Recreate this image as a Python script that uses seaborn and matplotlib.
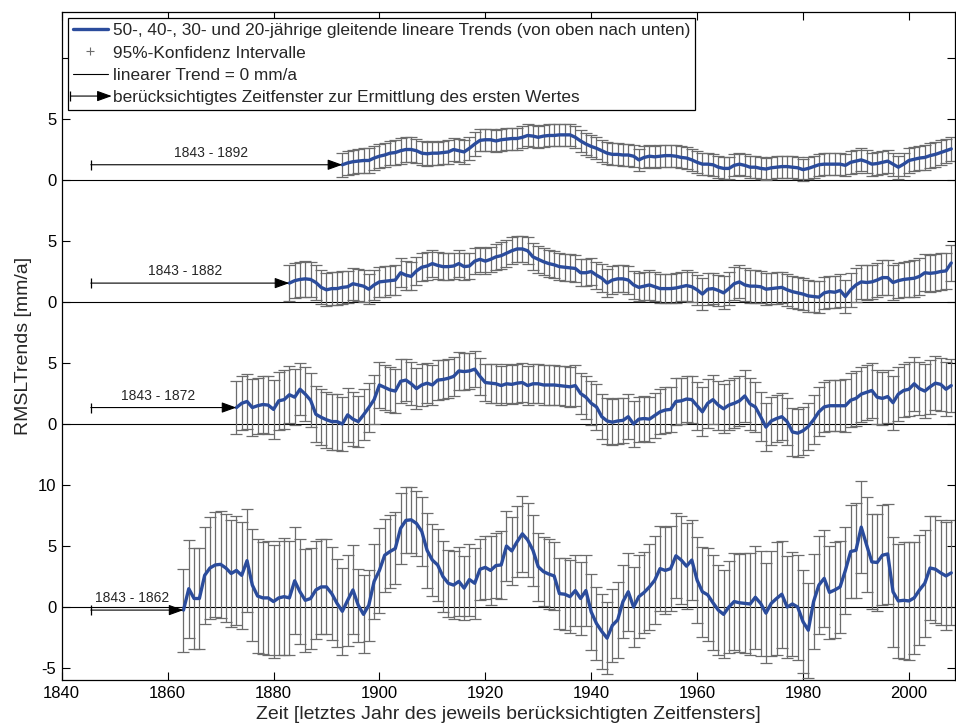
import numpy as np
import pandas as pd
import matplotlib
matplotlib.use("Agg")
import matplotlib.pyplot as plt
import seaborn as sns
from matplotlib.lines import Line2D
from matplotlib.legend_handler import HandlerBase
from matplotlib.patches import FancyArrowPatch

sns.set_style("ticks")
plt.rcParams["font.family"] = ["Liberation Sans", "DejaVu Sans"]

# ---------------- data ----------------
start_years = [1893, 1883, 1873, 1863]          # first plotted value (50, 40, 30, 20 yr)
window_labels = ["1843 - 1892", "1843 - 1882", "1843 - 1872", "1843 - 1862"]

trend_50 = [1.25, 1.4, 1.5, 1.55, 1.6, 1.6, 1.8, 1.95, 2.05, 2.2,
            2.25, 2.4, 2.5, 2.5, 2.4, 2.2, 2.15, 2.2, 2.2, 2.25,
            2.3, 2.5, 2.4, 2.3, 2.6, 2.95, 3.25, 3.3, 3.3, 3.2,
            3.3, 3.35, 3.4, 3.4, 3.5, 3.65, 3.6, 3.5, 3.6, 3.65,
            3.65, 3.7, 3.7, 3.7, 3.5, 3.2, 2.95, 2.75, 2.6, 2.4,
            2.2, 2.1, 2.1, 2.05, 2.05, 1.95, 1.65, 1.85, 1.95, 1.9,
            1.95, 2.0, 2.0, 1.95, 1.85, 1.8, 1.65, 1.45, 1.3, 1.3,
            1.25, 1.05, 0.95, 0.95, 1.2, 1.3, 1.2, 1.05, 1.05, 0.95,
            0.9, 1.0, 1.05, 1.1, 1.1, 1.05, 1.0, 0.85, 0.95, 1.1,
            1.25, 1.3, 1.3, 1.3, 1.3, 1.2, 1.45, 1.55, 1.65, 1.5,
            1.3, 1.35, 1.45, 1.55, 1.3, 1.05, 1.3, 1.6, 1.7, 1.8,
            1.85, 2.0, 2.1, 2.25, 2.4, 2.55]
ci_50 = [1.0, 1.0, 1.0, 1.0, 1.0, 1.0, 1.0, 1.0, 1.0, 1.0,
         1.05, 1.05, 1.05, 1.0, 1.0, 1.0, 1.0, 1.0, 0.95, 0.95,
         0.95, 0.95, 0.95, 0.95, 0.95, 0.95, 0.9, 0.9, 0.9, 0.9,
         0.9, 0.9, 0.9, 0.9, 0.9, 0.9, 0.9, 0.9, 0.9, 0.9,
         0.9, 0.9, 0.9, 0.9, 0.9, 0.9, 0.9, 0.9, 0.9, 0.9,
         0.9, 0.9, 0.9, 0.9, 0.9, 0.9, 0.9, 0.9, 0.9, 0.9,
         0.9, 0.9, 0.9, 0.9, 0.9, 0.9, 0.9, 0.9, 0.9, 0.9,
         0.9, 0.9, 0.9, 0.9, 0.9, 0.9, 0.9, 0.9, 0.9, 0.9,
         0.9, 0.9, 0.9, 0.9, 0.9, 0.9, 0.9, 0.9, 0.9, 0.9,
         0.9, 0.9, 0.9, 0.9, 0.9, 0.9, 0.95, 0.95, 0.95, 0.95,
         0.95, 0.95, 0.95, 0.95, 0.95, 0.95, 0.95, 1.0, 1.0, 1.0,
         1.0, 1.0, 1.0, 1.0, 1.0, 1.0]

trend_40 = [1.55, 1.75, 1.85, 1.9, 1.85, 1.6, 1.2, 1.0, 1.1, 1.1,
            1.2, 1.25, 1.5, 1.4, 1.3, 1.05, 1.4, 1.65, 1.7, 1.75,
            1.8, 2.4, 2.2, 2.1, 2.55, 2.85, 2.95, 3.15, 3.0, 2.9,
            2.9, 2.95, 3.15, 2.9, 2.95, 3.35, 3.5, 3.35, 3.5, 3.7,
            3.8, 4.0, 4.2, 4.35, 4.35, 4.2, 3.7, 3.5, 3.3, 3.15,
            3.05, 2.9, 2.85, 2.8, 2.75, 2.4, 2.4, 2.5, 2.2, 1.95,
            1.55, 1.8, 1.9, 1.9, 1.8, 1.4, 1.2, 1.3, 1.4, 1.25,
            1.1, 1.1, 1.1, 1.15, 1.25, 1.35, 1.25, 1.0, 0.65, 1.05,
            1.1, 0.95, 0.75, 1.1, 1.5, 1.65, 1.4, 1.3, 1.3, 1.25,
            1.05, 1.1, 1.15, 1.2, 1.0, 0.85, 0.75, 0.65, 0.5, 0.45,
            0.4, 0.75, 0.85, 0.8, 0.95, 0.45, 1.0, 1.4, 1.65, 1.6,
            1.65, 1.8, 2.0, 2.0, 1.6, 1.75, 1.85, 1.9, 1.95, 2.1,
            2.4, 2.35, 2.4, 2.5, 2.55, 3.2]
ci_40 = [1.45, 1.45, 1.45, 1.45, 1.4, 1.4, 1.4, 1.35, 1.35, 1.35,
         1.35, 1.3, 1.3, 1.3, 1.3, 1.25, 1.25, 1.25, 1.25, 1.2,
         1.2, 1.2, 1.2, 1.15, 1.15, 1.15, 1.15, 1.1, 1.1, 1.1,
         1.1, 1.1, 1.1, 1.1, 1.05, 1.05, 1.05, 1.05, 1.05, 1.05,
         1.1, 1.1, 1.1, 1.1, 1.1, 1.1, 1.1, 1.1, 1.1, 1.1,
         1.1, 1.1, 1.1, 1.1, 1.1, 1.1, 1.1, 1.1, 1.1, 1.15,
         1.15, 1.15, 1.1, 1.1, 1.15, 1.15, 1.15, 1.15, 1.2, 1.2,
         1.2, 1.2, 1.2, 1.2, 1.2, 1.25, 1.25, 1.25, 1.3, 1.3,
         1.3, 1.3, 1.35, 1.35, 1.35, 1.35, 1.35, 1.35, 1.35, 1.3,
         1.3, 1.3, 1.3, 1.3, 1.3, 1.3, 1.3, 1.3, 1.3, 1.3,
         1.3, 1.3, 1.3, 1.3, 1.35, 1.35, 1.4, 1.4, 1.4, 1.4,
         1.4, 1.4, 1.45, 1.45, 1.45, 1.45, 1.45, 1.45, 1.5, 1.5,
         1.5, 1.5, 1.5, 1.5, 1.5, 1.5]

trend_30 = [1.35, 1.7, 1.85, 1.35, 1.5, 1.6, 1.55, 1.2, 1.9, 2.0,
            2.4, 2.2, 2.85, 2.45, 1.95, 0.8, 0.55, 0.35, 0.2, 0.2,
            0.0, 0.75, 0.4, 0.2, 0.75, 1.35, 2.0, 3.2, 3.0, 2.8,
            2.7, 3.5, 3.6, 3.3, 2.9, 3.2, 3.35, 3.2, 3.6, 3.65,
            3.75, 3.9, 4.35, 4.3, 4.35, 4.5, 3.9, 3.4, 3.35, 3.3,
            3.15, 3.3, 3.25, 3.35, 3.4, 3.15, 3.3, 3.3, 3.2, 3.2,
            3.2, 3.15, 3.1, 3.05, 3.15, 2.5, 2.2, 1.7, 1.4, 0.6,
            0.25, 0.15, 0.25, 0.3, 0.6, 0.0, 0.4, 0.45, 0.4, 0.7,
            1.0, 1.15, 1.2, 1.85, 1.9, 2.05, 2.0, 1.5, 1.0, 1.7,
            2.0, 1.55, 1.25, 1.55, 1.7, 1.9, 2.3, 1.65, 1.4, 0.6,
            -0.25, 0.25, 0.45, 0.6, 0.2, -0.65, -0.75, -0.55, -0.2, 0.35,
            1.0, 1.4, 1.5, 1.5, 1.5, 1.5, 1.95, 2.1, 2.45, 2.6,
            2.75, 2.2, 2.1, 2.25, 1.75, 2.45, 2.75, 2.85, 3.3, 2.9,
            2.7, 3.05, 3.35, 3.25, 2.85, 3.15]
ci_30 = [2.2, 2.2, 2.25, 2.3, 2.3, 2.3, 2.35, 2.4, 2.4, 2.4,
         2.35, 2.3, 2.15, 2.2, 2.2, 2.3, 2.3, 2.3, 2.3, 2.3,
         2.25, 2.2, 2.2, 2.1, 2.1, 2.0, 2.0, 1.9, 1.85, 1.85,
         1.8, 1.8, 1.75, 1.75, 1.7, 1.7, 1.65, 1.65, 1.65, 1.6,
         1.6, 1.6, 1.55, 1.55, 1.5, 1.5, 1.55, 1.55, 1.6, 1.6,
         1.6, 1.6, 1.6, 1.6, 1.6, 1.6, 1.6, 1.6, 1.6, 1.6,
         1.6, 1.6, 1.65, 1.65, 1.65, 1.7, 1.75, 1.8, 1.85, 1.85,
         1.85, 1.9, 1.9, 1.85, 1.85, 1.85, 1.85, 1.85, 1.85, 1.85,
         1.85, 1.85, 1.85, 1.9, 1.9, 1.9, 1.9, 1.95, 2.0, 2.0,
         2.0, 2.0, 2.0, 2.05, 2.05, 2.05, 2.1, 2.1, 2.05, 2.0,
         2.0, 2.0, 1.95, 1.95, 1.95, 1.95, 1.95, 1.95, 1.95, 2.0,
         2.0, 2.05, 2.1, 2.1, 2.1, 2.15, 2.2, 2.25, 2.25, 2.25,
         2.25, 2.2, 2.2, 2.2, 2.2, 2.2, 2.2, 2.2, 2.2, 2.2,
         2.2, 2.2, 2.2, 2.2, 2.2, 2.2]

trend_20 = [-0.25, 1.5, 0.7, 0.7, 2.6, 3.2, 3.45, 3.5, 3.2, 2.75,
            3.0, 2.6, 3.8, 1.8, 0.9, 0.75, 0.75, 0.45, 0.75, 0.85,
            0.75, 2.15, 1.25, 0.55, 0.7, 1.4, 1.65, 1.65, 1.1, 0.3,
            -0.35, 0.55, 1.4, 0.15, -0.6, 0.15, 2.1, 3.0, 4.25, 4.55,
            4.8, 6.45, 7.1, 7.15, 6.85, 6.2, 4.65, 3.85, 3.45, 2.5,
            1.95, 1.8, 2.1, 1.55, 2.25, 1.95, 3.1, 3.25, 3.0, 3.4,
            3.45, 5.0, 4.6, 5.35, 6.0, 5.5, 4.65, 3.3, 2.9, 2.7,
            2.55, 1.1, 1.05, 0.85, 1.35, 0.7, 1.35, -0.4, -1.35, -2.0,
            -2.55, -1.5, -1.05, 0.45, 1.25, 0.0, 0.85, 1.2, 1.65, 2.2,
            3.15, 3.0, 3.15, 4.2, 3.85, 3.35, 3.85, 2.2, 1.25, 1.0,
            0.35, -0.25, -0.6, 0.0, 0.45, 0.35, 0.3, 0.25, 0.8, 0.3,
            -0.5, 0.3, 0.7, 1.05, 0.0, 0.25, 0.0, -1.2, -1.9, 0.45,
            1.8, 2.35, 1.2, 1.4, 1.65, 3.0, 4.55, 4.65, 6.55, 5.1,
            3.7, 3.65, 4.25, 4.35, 1.25, 0.5, 0.55, 0.5, 0.75, 1.4,
            1.95, 3.2, 3.1, 2.8, 2.55, 2.8]
ci_20 = [3.4, 4.0, 4.1, 4.1, 4.0, 4.2, 4.3, 4.4, 4.4, 4.4,
         4.5, 4.4, 4.2, 4.6, 4.7, 4.6, 4.7, 4.6, 4.7, 4.8,
         4.7, 4.4, 4.3, 4.2, 4.1, 4.0, 3.9, 3.9, 3.8, 3.6,
         3.55, 3.75, 3.65, 3.0, 3.2, 2.9, 3.1, 3.5, 3.0, 3.0,
         2.95, 2.9, 2.7, 2.7, 2.7, 2.85, 3.05, 2.95, 2.95, 2.9,
         2.75, 2.8, 2.8, 2.65, 2.95, 2.9, 2.5, 2.6, 2.8, 2.7,
         2.8, 2.9, 2.8, 2.9, 3.1, 3.0, 2.9, 2.8, 2.8, 2.9,
         2.8, 2.9, 2.95, 3.0, 2.9, 3.0, 2.9, 3.1, 3.0, 3.1,
         2.95, 3.0, 3.1, 3.0, 3.2, 3.3, 3.4, 3.3, 3.5, 3.6,
         3.5, 3.6, 3.5, 3.5, 3.6, 3.5, 3.3, 3.5, 3.7, 3.8,
         3.9, 3.7, 3.6, 3.8, 4.0, 4.0, 4.1, 4.2, 4.2, 4.3,
         4.1, 4.3, 4.6, 4.4, 4.2, 4.3, 4.3, 4.2, 3.9, 3.9,
         4.0, 4.0, 3.8, 3.9, 3.8, 3.6, 3.8, 3.9, 3.8, 3.9,
         3.9, 4.0, 4.1, 4.1, 4.5, 4.7, 4.8, 4.8, 4.6, 4.5,
         4.4, 4.3, 4.4, 4.3, 4.4, 4.3]

x_ticks = [1840, 1860, 1880, 1900, 1920, 1940, 1960, 1980, 2000]
y_tick_labels = ["-5", "0", "5", "10", "0", "5", "0", "5", "0", "5", ""]

legend_labels = [
    "50-, 40-, 30- und 20-jährige gleitende lineare Trends (von oben nach unten)",
    "95%-Konfidenz Intervalle",
    "linearer Trend = 0 mm/a",
    "berücksichtigtes Zeitfenster zur Ermittlung des ersten Wertes",
]
x_label = "Zeit [letztes Jahr des jeweils berücksichtigten Zeitfensters]"
y_label = "RMSLTrends [mm/a]"

# ---------------- layout / style ----------------
offsets = [35, 25, 15, 0]
window_start = 1845.5
blue = "#2b4c9c"
grey = "#6c6c6c"

W, H = 956, 725
fig = plt.figure(figsize=(W / 100, H / 100), dpi=100)
ax = fig.add_axes([61.7 / W, 1 - 680 / H, (955.5 - 61.7) / W, 668 / H])

series = [(trend_50, ci_50), (trend_40, ci_40), (trend_30, ci_30), (trend_20, ci_20)]
arrowstyle = "-|>,head_length=0.75,head_width=0.27"
arrow_scale = 12

for (vals, ci), start, off, lab in zip(series, start_years, offsets, window_labels):
    years = np.arange(start, start + len(vals))
    y = np.asarray(vals) + off
    ax.axhline(off, color="k", lw=0.8, zorder=1)
    ax.errorbar(years, y, yerr=ci, fmt="none", ecolor=grey, elinewidth=0.9,
                capsize=4.5, capthick=0.9, zorder=2)
    df = pd.DataFrame({"Jahr": years, "Wert": y})
    sns.lineplot(data=df, x="Jahr", y="Wert", ax=ax, color=blue, lw=2.4,
                 zorder=3, legend=False)
    ax.annotate("", xy=(start, y[0]), xytext=(window_start, y[0]),
                arrowprops=dict(arrowstyle=arrowstyle, color="k", lw=0.8,
                                shrinkA=0, shrinkB=0, mutation_scale=arrow_scale),
                zorder=4)
    ax.plot([window_start], [y[0]], marker="|", color="k", ms=7, mew=0.9, zorder=4)
    ax.annotate(lab, xy=((window_start + start) / 2 - 1, y[0]), xytext=(0, 3.5),
                textcoords="offset points", ha="center", va="bottom", fontsize=10)

ax.set_xlim(1840, 2008.8)
ax.set_ylim(-5.98, 48.77)
ax.set_xticks(x_ticks)
ax.set_yticks(np.arange(-5, 50, 5))
ax.set_yticklabels(y_tick_labels)
ax.tick_params(direction="in", length=6, width=0.8, top=True, right=True,
               labelsize=12, pad=4, colors="k")
for s in ax.spines.values():
    s.set_linewidth(0.9)
    s.set_color("k")
ax.set_xlabel(x_label, fontsize=14, labelpad=4)
ax.set_ylabel(y_label, fontsize=14, labelpad=4)


class WindowArrowHandler(HandlerBase):
    def create_artists(self, legend, orig_handle, xdescent, ydescent,
                       width, height, fontsize, trans):
        yc = height / 2 - ydescent
        x0 = -xdescent - 2
        x1 = -xdescent + width + 3
        arr = FancyArrowPatch((x0, yc), (x1, yc), arrowstyle=arrowstyle,
                              mutation_scale=arrow_scale, color="k", lw=0.8,
                              shrinkA=0, shrinkB=0, transform=trans)
        tick = Line2D([x0], [yc], marker="|", ms=7, mew=0.9, color="k",
                      transform=trans)
        return [arr, tick]


h_trend = Line2D([], [], color=blue, lw=2.4)
h_ci = Line2D([], [], ls="none", marker="+", color=grey, ms=6, mew=0.8)
h_zero = Line2D([], [], color="k", lw=0.8)
h_arrow = Line2D([], [])
leg = ax.legend([h_trend, h_ci, h_zero, h_arrow], legend_labels,
                handler_map={h_arrow: WindowArrowHandler()},
                loc="upper left", bbox_to_anchor=(68 / W, 1 - 18 / H),
                bbox_transform=fig.transFigure, borderaxespad=0,
                fontsize=12.4, frameon=True, fancybox=False, framealpha=1,
                edgecolor="k", labelspacing=0.42, handlelength=2.0,
                handletextpad=0.3, borderpad=0.3)
leg.get_frame().set_linewidth(0.9)

fig.savefig("out.png", dpi=100)
